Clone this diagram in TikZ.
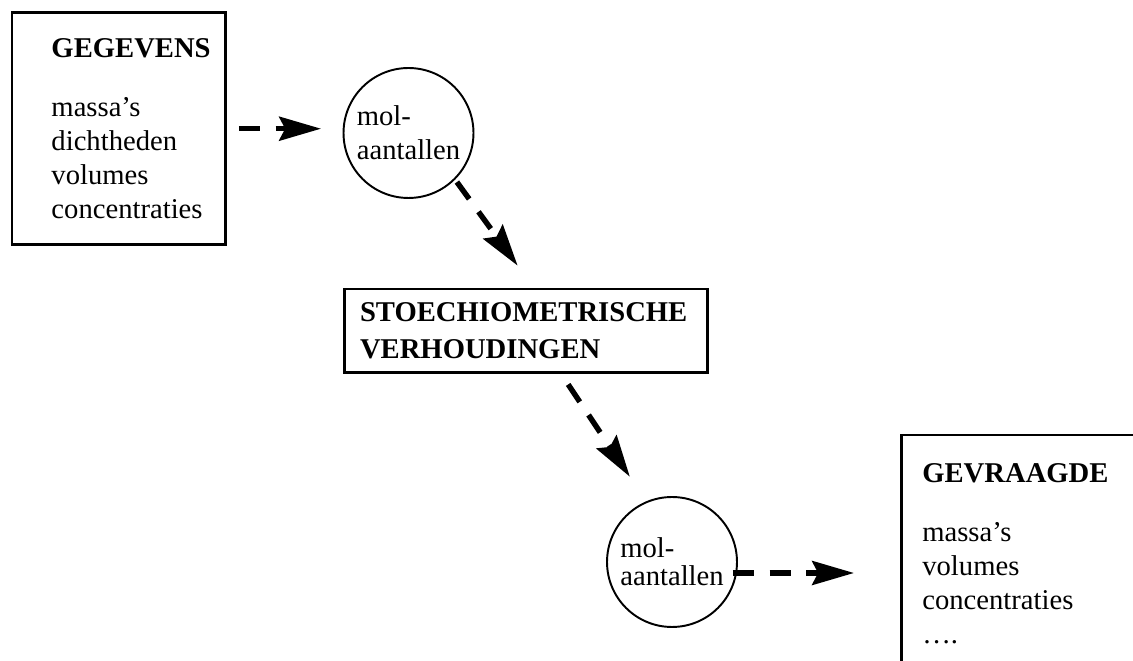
\documentclass[tikz,border=0pt]{standalone}
\usepackage{fontspec}
\setmainfont{Liberation Serif}
\usepackage{tikz}
\usetikzlibrary{arrows.meta}
\tikzset{
  box/.style={draw=black, line width=1.7pt, rectangle, align=left},
  bubble/.style={draw=black, line width=1.1pt, circle, minimum size=2.6cm, inner sep=0pt, align=left,
    font=\fontsize{16.3}{19.3}\selectfont},
  flow/.style={draw=black, line width=3.1pt, dash pattern=on 11.9pt off 9pt,
    -{Stealth[length=23.8pt,width=13.6pt,inset=3.4pt]}},
  lab/.style={font=\fontsize{16.3}{19.3}\selectfont},
}

\begin{document}
\begin{tikzpicture}[x=0.02cm, y=-0.02cm]
  \path[use as bounding box] (0,0) rectangle (1133,661);
  \clip (0,0) rectangle (1133,661);
  \node[box, lab, anchor=north west, minimum width=4.27cm, minimum height=4.63cm,
    inner xsep=0.79cm, text width=2.69cm] (gegevens) at (10.5,11.5)
    {\textbf{GEGEVENS}\\[14.3pt] massa's\\ dichtheden\\ volumes\\ concentraties};
  \node[bubble] (mol1) at (408.5,133) {mol-\\aantallen};
  \node[box, minimum width=7.28cm, minimum height=1.68cm, inner xsep=0.32cm, text width=6.64cm,
    font=\bfseries\fontsize{16.3}{21}\selectfont] (stoech) at (526,331)
    {STOECHIOMETRISCHE\\ VERHOUDINGEN};
  \node[bubble, font=\fontsize{16.3}{16}\selectfont] (mol2) at (672,562) {mol-\\aantallen};
  % box runs off the page on the right and at the bottom
  \node[lab, anchor=north west, align=left, inner xsep=0.42cm, inner ysep=0.56cm, text width=6cm]
    (gevraagd) at (901,435)
    {\textbf{GEVRAAGDE}\\[14.3pt] massa's\\ volumes\\ concentraties\\ ….};
  \draw[black, line width=1.7pt] (gevraagd.north east) -- (gevraagd.north west)
    -- ([yshift=-1cm]gevraagd.south west);
  % dashed arrows
  \draw[flow, shorten <=0.24cm, shorten >=0.43cm] (gegevens.east) -- (gegevens.east -| mol1.west);
  \draw[flow, shorten <=0.06cm, shorten >=0.54cm] (mol1.-45) -- ([xshift=0.15cm]stoech.north);
  \draw[flow, shorten <=0.24cm, shorten >=0.59cm] ([xshift=0.71cm]stoech.south) -- (mol2.113.6);
  \coordinate (uit) at ([yshift=-0.22cm]mol2.east);
  \draw[flow, shorten <=-0.1cm, shorten >=0.94cm] (uit) -- (uit -| gevraagd.west);
\end{tikzpicture}
\end{document}
